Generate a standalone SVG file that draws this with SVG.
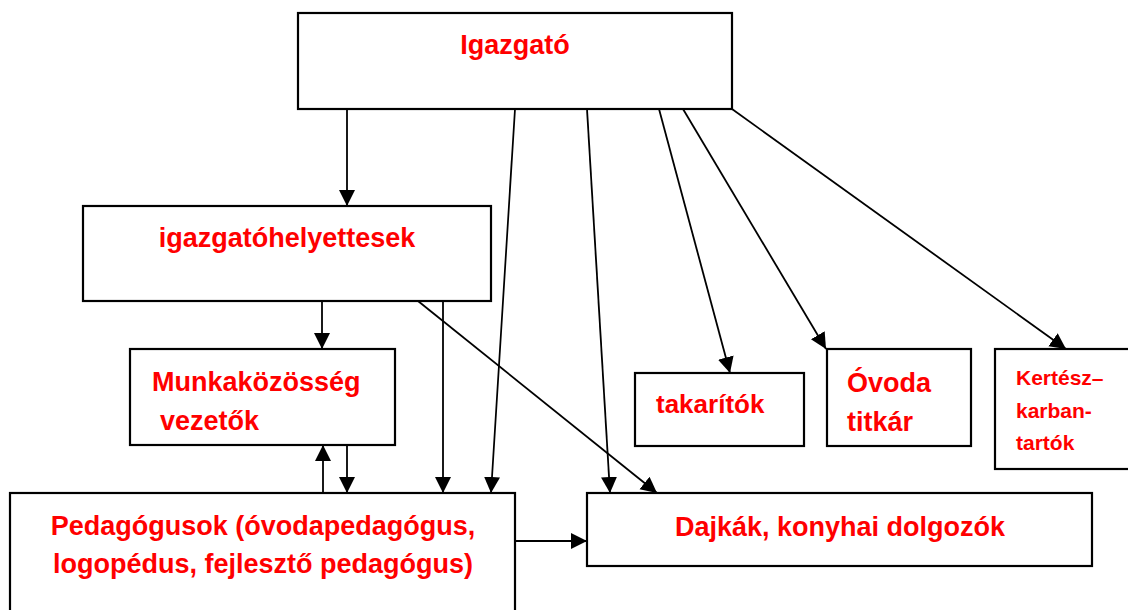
<svg xmlns="http://www.w3.org/2000/svg" width="1128" height="610" viewBox="0 0 1128 610">
<style>
.box{fill:#fff;stroke:#000;stroke-width:2.2}
.t{font-family:"Liberation Sans",Arial,sans-serif;font-weight:bold;fill:#ff0000;font-size:27px}
.s{font-size:21px}
.c{stroke:#000;stroke-width:1.8;fill:none;marker-end:url(#ah)}
</style>
<defs>
<marker id="ah" markerUnits="userSpaceOnUse" markerWidth="17" markerHeight="17" refX="16" refY="8" orient="auto">
<path d="M0,0 L16,8 L0,16 z" fill="#000"/>
</marker>
</defs>
<rect width="1128" height="610" fill="#fff"/>
<g id="connectors">
<line class="c" x1="347" y1="109" x2="347" y2="206"/>
<line class="c" x1="515" y1="109" x2="491" y2="493"/>
<line class="c" x1="587" y1="109" x2="610" y2="493"/>
<line class="c" x1="659" y1="109" x2="730" y2="373"/>
<line class="c" x1="683" y1="109" x2="826" y2="349"/>
<line class="c" x1="732" y1="109" x2="1066" y2="349"/>
<line class="c" x1="322" y1="301" x2="322" y2="349"/>
<line class="c" x1="443" y1="301" x2="443" y2="493"/>
<line class="c" x1="418" y1="301" x2="657" y2="493"/>
<line class="c" x1="323" y1="493" x2="323" y2="445"/>
<line class="c" x1="347" y1="445" x2="347" y2="493"/>
<line class="c" x1="515" y1="541" x2="587" y2="541"/>
</g>
<g id="igazgato">
<rect class="box" x="298" y="13" width="434" height="96"/>
<text class="t" x="515" y="54" text-anchor="middle">Igazgató</text>
</g>
<g id="helyettesek">
<rect class="box" x="83" y="206" width="408" height="95"/>
<text class="t" x="287" y="247" text-anchor="middle">igazgatóhelyettesek</text>
</g>
<g id="munkakozosseg">
<rect class="box" x="130" y="349" width="265" height="96"/>
<text class="t" x="152" y="391">Munkaközösség</text>
<text class="t" x="160" y="430">vezetők</text>
</g>
<g id="pedagogusok">
<rect class="box" x="10" y="493" width="505" height="130"/>
<text class="t" x="263" y="535" text-anchor="middle">Pedagógusok (óvodapedagógus,</text>
<text class="t" x="263" y="573" text-anchor="middle">logopédus, fejlesztő pedagógus)</text>
</g>
<g id="dajkak">
<rect class="box" x="587" y="493" width="505" height="73"/>
<text class="t" x="840" y="536" text-anchor="middle">Dajkák, konyhai dolgozók</text>
</g>
<g id="takaritok">
<rect class="box" x="635" y="373" width="169" height="73"/>
<text class="t" x="656" y="413" style="font-size:26px">takarítók</text>
</g>
<g id="titkar">
<rect class="box" x="827" y="349" width="144" height="97"/>
<text class="t" x="847" y="392">Óvoda</text>
<text class="t" x="847" y="431">titkár</text>
</g>
<g id="kertesz">
<rect class="box" x="995" y="349" width="140" height="120"/>
<text class="t s" x="1016" y="385">Kertész–</text>
<text class="t s" x="1016" y="418">karban-</text>
<text class="t s" x="1016" y="450">tartók</text>
</g>
</svg>
